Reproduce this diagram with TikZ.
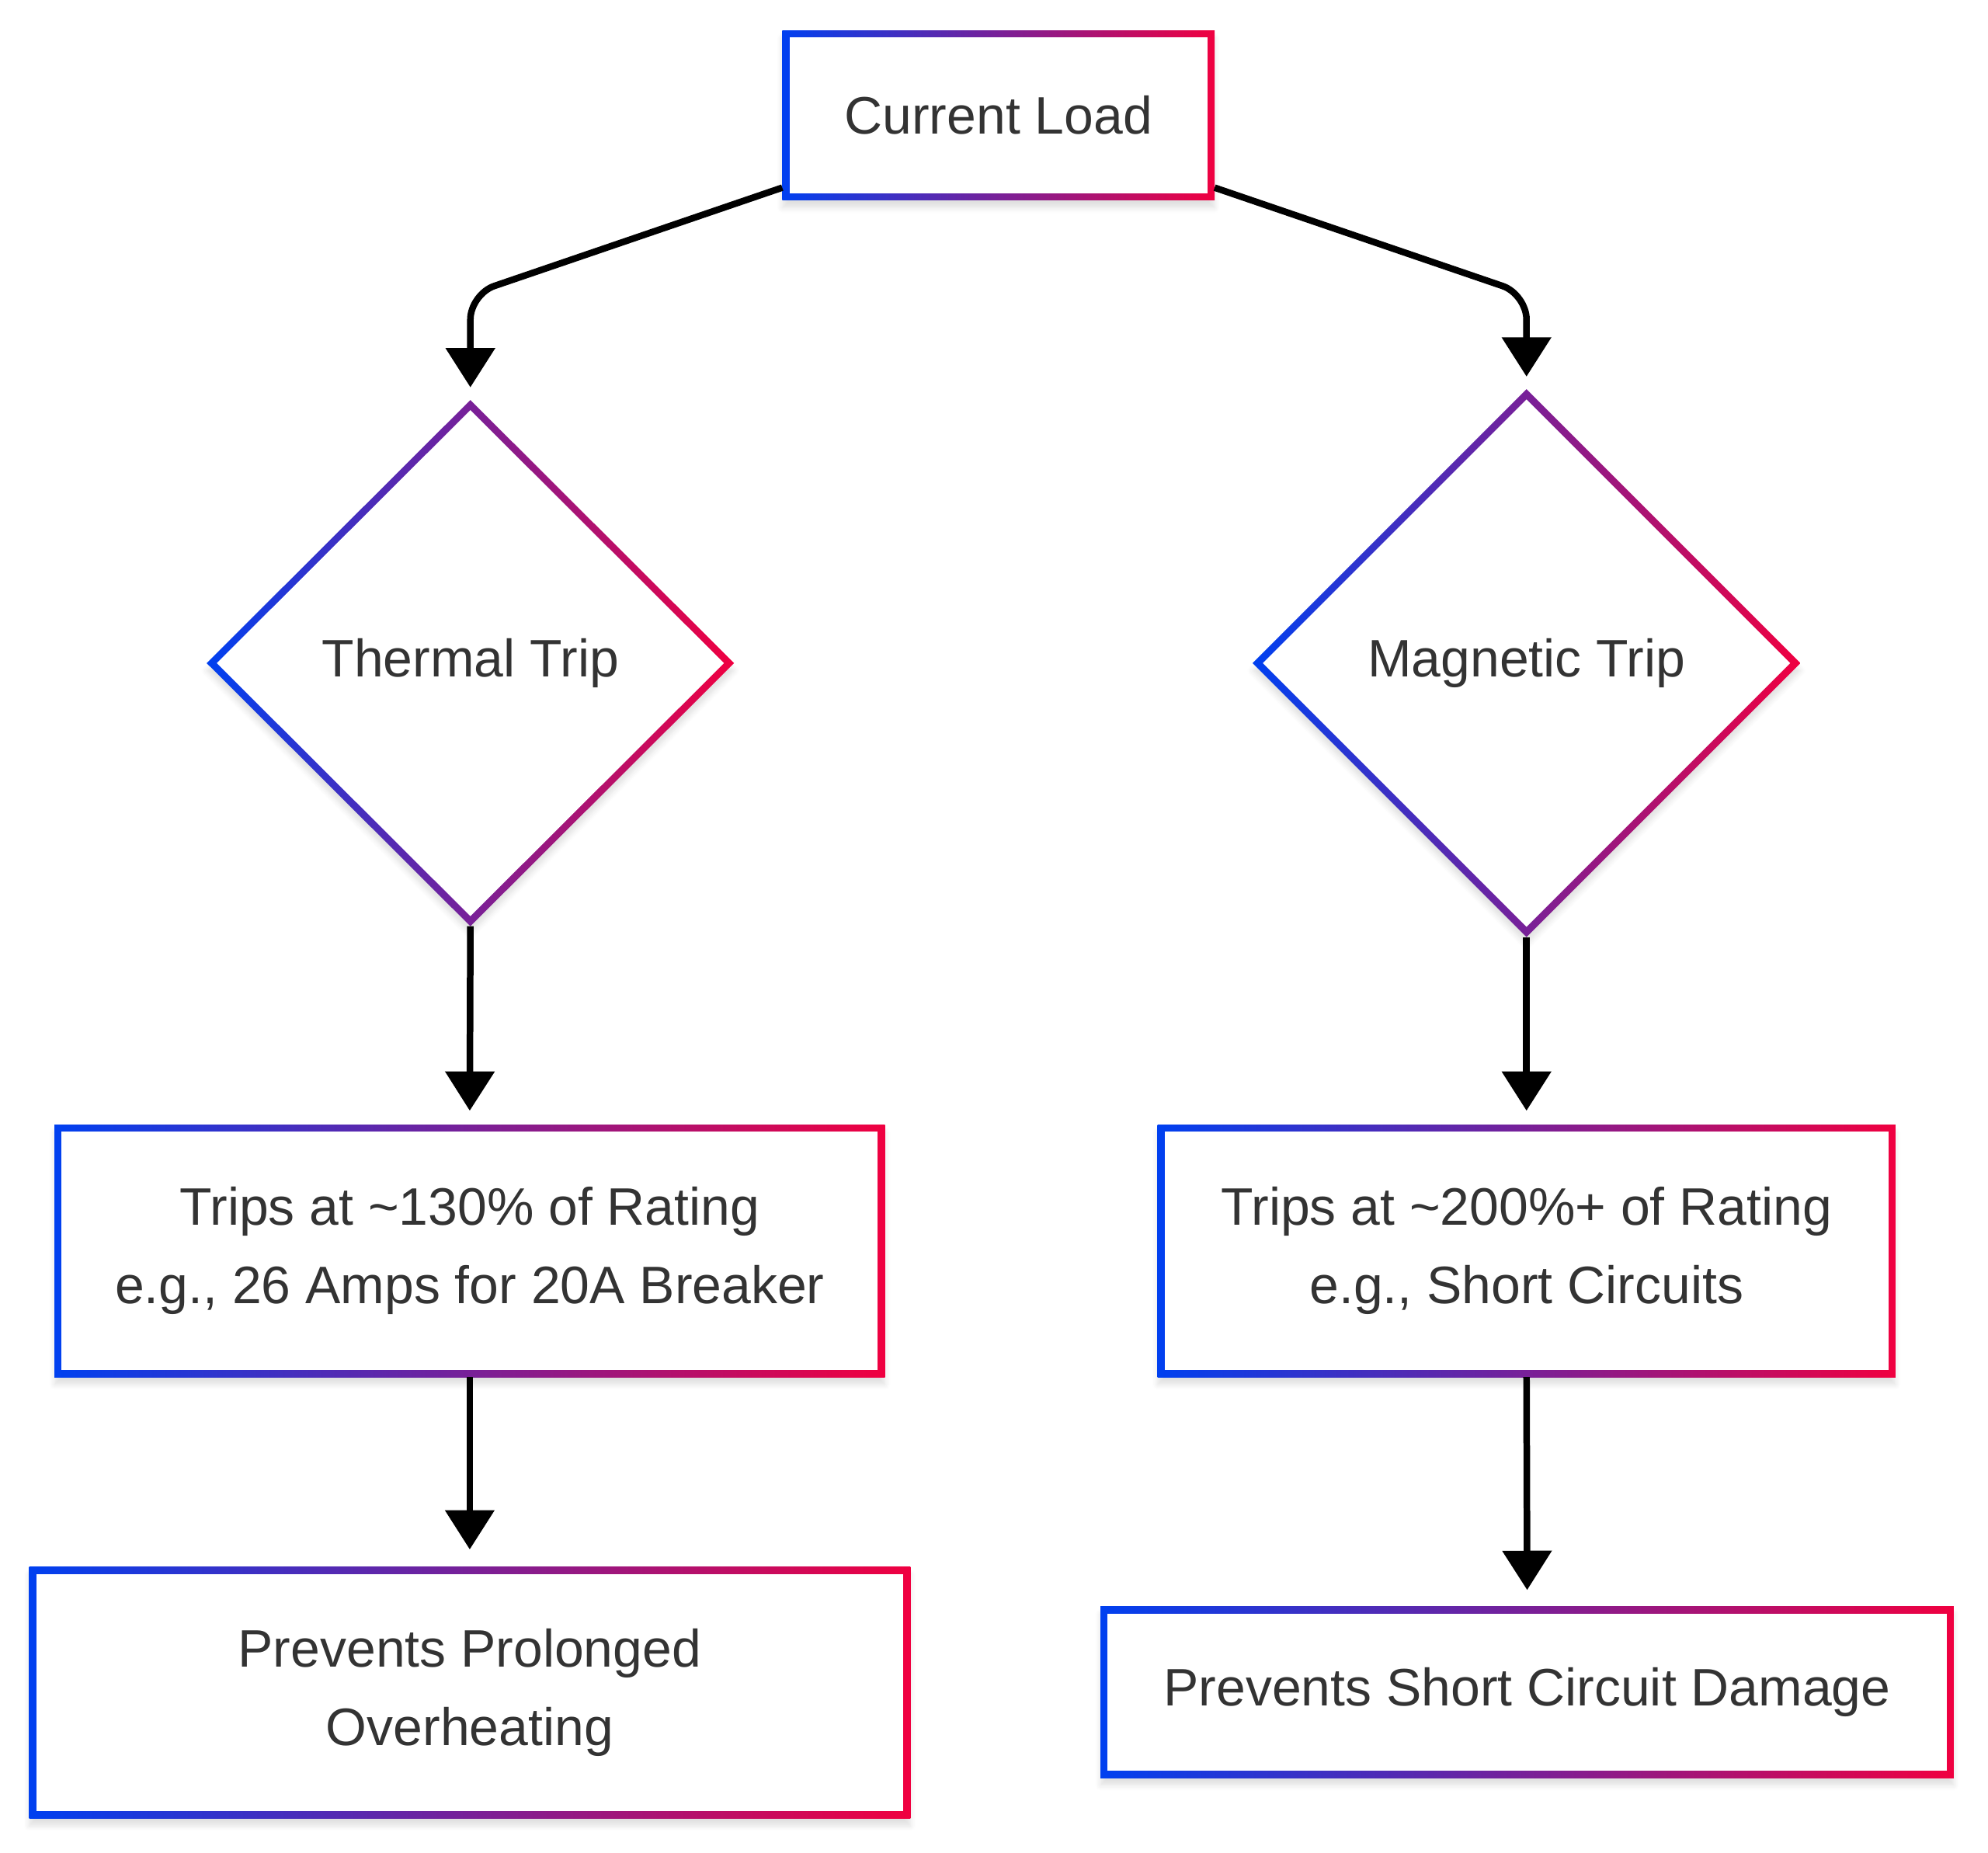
\documentclass[tikz,border=0pt]{standalone}
\usepackage{fontspec}
\setmainfont{Liberation Sans}
\usetikzlibrary{arrows.meta,shapes.geometric,shadows.blur}
\definecolor{gradblue}{RGB}{0,64,240}
\definecolor{gradred}{RGB}{240,0,64}
\definecolor{textgrey}{RGB}{51,51,51}
\tikzset{
  base/.style={inner sep=0pt, outer sep=0pt, left color=gradblue, right color=gradred,
    text=textgrey, font=\fontsize{20.8pt}{31pt}\selectfont, align=center,
    blur shadow={shadow xshift=0pt, shadow yshift=-3pt, shadow blur steps=6, shadow opacity=12}},
  box/.style={base, rectangle,
    path picture={\fill[white] ([shift={(2.8pt,2.8pt)}]path picture bounding box.south west)
      rectangle ([shift={(-2.8pt,-2.8pt)}]path picture bounding box.north east);}},
  decision/.style={base, diamond, aspect=1,
    path picture={\fill[white] ([yshift=-4pt]path picture bounding box.north)
      -- ([xshift=-4pt]path picture bounding box.east)
      -- ([yshift=4pt]path picture bounding box.south)
      -- ([xshift=4pt]path picture bounding box.west) -- cycle;}},
  flow/.style={draw=black, line width=2.6pt, -{Triangle[length=15.5pt,width=19pt]}, rounded corners=10pt}
}
\begin{document}
\begin{tikzpicture}[x=0.5pt,y=-0.5pt]
      \useasboundingbox (0,0) rectangle (1568,1461);
      \node[box, minimum width=170.5pt, minimum height=67pt] (load) at (787.5,91) {Current Load};
      \node[decision, minimum width=208pt, minimum height=207.5pt] (thermal) at (371,523) {Thermal Trip};
      \node[decision, minimum width=216pt, minimum height=216pt] (magnetic) at (1204,523) {Magnetic Trip};
      \node[box, minimum width=327.5pt, minimum height=99.5pt] (thermalrate) at (370.5,986.5)
        {Trips at \textasciitilde130\% of Rating\\e.g., 26 Amps for 20A Breaker};
      \node[box, minimum width=291pt, minimum height=99.5pt] (magneticrate) at (1204,986.5)
        {Trips at \textasciitilde200\%+ of Rating\\e.g., Short Circuits};
      \node[box, minimum width=347.5pt, minimum height=99pt] (thermalres) at (370.5,1335)
        {Prevents Prolonged\\Overheating};
      \node[box, minimum width=336.5pt, minimum height=67.5pt] (magneticres) at (1204.5,1334.5)
        {Prevents Short Circuit Damage};
      \begin{scope}[flow]
        \draw ([yshift=5pt]load.south west) -- (thermal.north |- 0,232) -- ([yshift=5pt]thermal.north);
        \draw ([yshift=5pt]load.south east) -- (magnetic.north |- 0,232) -- ([yshift=5pt]magnetic.north);
        \draw (thermal.south) -- ([yshift=5.5pt]thermalrate.north);
        \draw (magnetic.south) -- ([yshift=5.5pt]magneticrate.north);
        \draw (thermalrate.south) -- ([yshift=7pt]thermalres.north);
        \draw (magneticrate.south) -- ([yshift=6.5pt]magneticres.north);
      \end{scope}
    \end{tikzpicture}
\end{document}
